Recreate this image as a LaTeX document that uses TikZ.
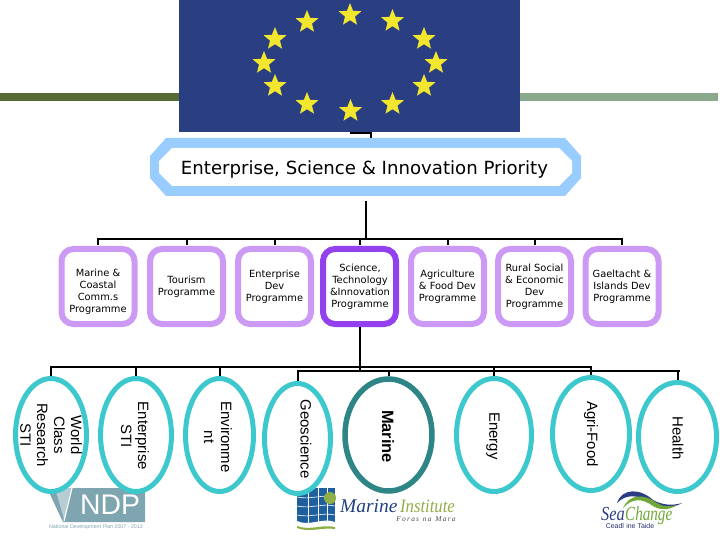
\documentclass[tikz,border=0pt]{standalone}
\usepackage{fontspec}
\setmainfont{DejaVu Sans}
\newfontfamily\arialf{Liberation Sans}
\newfontfamily\timesf{Liberation Serif}
\usetikzlibrary{shapes.geometric}
\definecolor{flagblue}{HTML}{2A3F82}
\definecolor{stary}{HTML}{F2E62E}
\definecolor{bardark}{HTML}{566B36}
\definecolor{barlight}{HTML}{8AA88C}
\definecolor{octblue}{HTML}{99CCFF}
\definecolor{lilac}{HTML}{CC99F5}
\definecolor{violet}{HTML}{9340EE}
\definecolor{tealc}{HTML}{3CC8CC}
\definecolor{teald}{HTML}{2E8585}
\definecolor{ndpc}{HTML}{7FA5B0}
\definecolor{ndpl}{HTML}{B5CDD3}
\definecolor{miblue}{HTML}{1F5F9E}
\definecolor{minavy}{HTML}{1F3F7F}
\definecolor{migreen}{HTML}{8DAF45}
\definecolor{scblue}{HTML}{2B3C85}
\definecolor{scgreen}{HTML}{6FA838}
\tikzset{
  link/.style={draw=black,line width=2bp},
  prog/.style={draw=lilac,fill=white,line width=6bp,rounded corners=12bp,inner sep=0pt,
    minimum width=73bp,minimum height=75bp,anchor=center},
  progtext/.style={font=\fontsize{9.9}{12}\selectfont,align=center,inner sep=0pt},
  oval/.style={ellipse,draw=tealc,fill=white,line width=5bp,inner sep=0pt},
  ovaltext/.style={font=\arialf\fontsize{15}{17}\selectfont,align=center,rotate=-90,inner sep=0pt},
  estar/.style={star,star points=5,star point ratio=2.3,fill=stary,draw=none,minimum size=24bp,inner sep=0pt}
}
\begin{document}
\begin{tikzpicture}[x=1bp,y=-1bp]
\useasboundingbox (0,0) rectangle (720,540);
% bars and flag
\fill[bardark] (0,93) rectangle (180,101);
\fill[barlight] (520,93) rectangle (718,101);
\node[fill=flagblue,minimum width=341bp,minimum height=132bp,inner sep=0pt] (flag) at (349.5,66) {};
\foreach \n/\x/\y in {a/350/15,b/392.5/21,c/424/39,d/436/63,e/424/86,f/392.5/104,g/350.5/111,h/307/104,i/275/86,j/264/63,k/275/39,l/307/22}
  \node[estar] (s\n) at (\x,\y) {};
% octagon
\coordinate (stubA) at (351,132);
\coordinate (stubB) at (371,133);
\coordinate (octtop) at (371,139);
\draw[line width=1.5bp] (stubA) -- (351,133) -- (stubB) -- (octtop);
\fill[octblue] (166,138) -- (565,138) -- (581,156) -- (581,178) -- (565,196) -- (166,196) -- (150,178) -- (150,156) -- cycle;
\fill[white] (172,148) -- (559,148) -- (572,161) -- (572,173) -- (559,186) -- (172,186) -- (159,173) -- (159,161) -- cycle;
\node[font=\fontsize{18.2}{20}\selectfont,inner sep=0pt] (prio) at (364.5,169) {Enterprise, Science \& Innovation Priority};
\coordinate (priob) at (366,201);
% programme tree
\coordinate (busA) at (366,239.5);
\draw[link] (priob) -- (busA);
\coordinate (busL) at (97,239.5);
\coordinate (busR) at (623,239.5);
\draw[link] (busL) -- (busR);
\node[prog] (p1) at (98,286.5) {};
\node[prog] (p2) at (186.5,286.5) {};
\node[prog] (p3) at (274.5,286.5) {};
\node[prog,draw=violet] (p4) at (359.5,286.5) {};
\node[prog] (p5) at (447.5,286.5) {};
\node[prog] (p6) at (534.5,286.5) {};
\node[prog] (p7) at (622,286.5) {};
\foreach \n in {1,...,7} \draw[link] (p\n.north |- busL) -- ([yshift=1bp]p\n.north);
\node[progtext] (t1) at (98,292) {Marine \&\\Coastal\\Comm.s\\Programme};
\node[progtext] (t2) at (186.5,287) {Tourism\\Programme};
\node[progtext] (t3) at (274.5,287) {Enterprise\\Dev\\Programme};
\node[progtext] (t4) at (360,287) {Science,\\Technology\\\&Innovation\\Programme};
\node[progtext] (t5) at (447.5,287) {Agriculture\\\& Food Dev\\Programme};
\node[progtext] (t6) at (534.5,287) {Rural Social\\\& Economic\\Dev\\Programme};
\node[progtext] (t7) at (622,287) {Gaeltacht \&\\Islands Dev\\Programme};
% NDP logo
\fill[ndpc] (47,488) -- (145,488) -- (145,522) -- (63,522) -- cycle;
\fill[ndpl] (55,488) -- (71,488) -- (64,519) -- cycle;
\draw[white,line width=1.2bp] (72,488) -- (64,521);
\node[font=\arialf\fontsize{28.5}{28}\selectfont,text=white,inner sep=0pt] (ndp) at (110,505) {NDP};
\node[font=\arialf\fontsize{5.3}{6}\selectfont,text=ndpc,inner sep=0pt] (ndpt) at (96,527) {National Development Plan 2007 - 2013};
% Marine Institute logo
\fill[miblue] (297,488) rectangle (335,526);
\foreach \y in {497,506,515} \draw[white,line width=.6bp] (297,\y) .. controls (310,\y+3) and (322,\y-3) .. (335,\y);
\foreach \x in {308,318,327} \draw[white,line width=.6bp] (\x,488) -- (\x,526);
\fill[white] (297,521) .. controls (310,527) and (322,517) .. (335,522) -- (335,526) -- (297,526) -- cycle;
\fill[migreen] (297,526) .. controls (310,531) and (322,524) .. (335,527) -- (335,529) .. controls (322,527) and (310,533) .. (297,528) -- cycle;
\fill[migreen] (330,498) circle (6);
\node[font=\timesf\itshape\fontsize{19.5}{20}\selectfont,text=minavy,inner sep=0pt,anchor=base west] (mi) at (340,512) {Marine};
\node[font=\timesf\itshape\fontsize{19}{20}\selectfont,text=migreen,inner sep=0pt,anchor=base west,xscale=.88,transform shape] (mib) at (400,512) {Institute};
\node[font=\timesf\itshape\fontsize{7.5}{8}\selectfont,text=black!70,inner sep=0pt] (mi2) at (426,519.5) {F\,o\,r\,a\,s\ \ n\,a\ \ M\,a\,r\,a};
% SeaChange logo
\fill[scblue] (617,503) .. controls (622,488) and (640,488) .. (653,500) .. controls (662,505) and (672,506) .. (682,503) .. controls (672,509) and (660,508) .. (650,503) .. controls (638,494) and (626,494) .. (617,503) -- cycle;
\fill[scgreen] (623,508) .. controls (630,493) and (645,494) .. (657,503) .. controls (663,507) and (670,507) .. (677,505) .. controls (668,511) and (660,510) .. (653,506) .. controls (642,498) and (632,498) .. (623,508) -- cycle;
\node[font=\timesf\itshape\fontsize{20}{20}\selectfont,text=scblue,inner sep=0pt,anchor=base west,xscale=.82,transform shape] (sca) at (601,520) {Sea};
\node[font=\timesf\itshape\fontsize{20}{20}\selectfont,text=scgreen,inner sep=0pt,anchor=base west,xscale=.76,transform shape] (scb) at (625,520) {Change};
\node[font=\arialf\fontsize{7}{7}\selectfont,text=scblue!80!black,inner sep=0pt] (sc2) at (630,526) {Ceadl\,\,ine Taide};
% ovals
\coordinate (vtop) at (360,327);
\coordinate (vbot) at (360,371);
\draw[link] (vtop) -- (vbot);
\coordinate (h1L) at (50,367);
\coordinate (h1R) at (592,367);
\coordinate (h2L) at (297,371);
\coordinate (h2R) at (680,371);
\draw[link] (h1L) -- (h1R);
\draw[link] (h2L) -- (h2R);
\node[oval,minimum width=71bp,minimum height=113bp] (o1) at (51,435) {};
\node[oval,minimum width=71bp,minimum height=113bp] (o2) at (136,435) {};
\node[oval,minimum width=68bp,minimum height=113bp] (o3) at (219.5,435) {};
\node[oval,minimum width=66bp,minimum height=110bp] (o4) at (297.5,438.5) {};
\node[oval,draw=teald,line width=5.5bp,minimum width=87bp,minimum height=112bp] (o5) at (388.5,435) {};
\node[oval,minimum width=75bp,minimum height=113bp] (o6) at (494,435) {};
\node[oval,minimum width=77bp,minimum height=113bp] (o7) at (591,434) {};
\node[oval,minimum width=78bp,minimum height=109bp] (o8) at (677.5,437) {};
\draw[link] (o1.north |- h1L) -- (o1.north);
\draw[link] (o2.north |- h1L) -- (o2.north);
\draw[link] (o3.north |- h1L) -- (o3.north);
\draw[link] (o4.north |- h2L) -- (o4.north);
\draw[link] (o5.north |- h2L) -- (o5.north);
\draw[link] (o6.north |- h1L) -- (o6.north);
\draw[link] (o7.north |- h1L) -- (o7.north);
\draw[link] (o8.north |- h2L) -- (o8.north);
\node[ovaltext] (l1) at (51,435) {World\\Class\\Research\\STI};
\node[ovaltext] (l2) at (135,436) {Enterprise\\STI};
\node[ovaltext] (l3) at (218,437) {Environme\\nt};
\node[ovaltext] (l4) at (306,439) {Geoscience};
\node[ovaltext,font=\arialf\bfseries\fontsize{16.5}{17}\selectfont] (l5) at (388,436.5) {Marine};
\node[ovaltext] (l6) at (493,436) {Energy};
\node[ovaltext] (l7) at (591,434) {Agri-Food};
\node[ovaltext] (l8) at (678,438) {Health};
\end{tikzpicture}
\end{document}
